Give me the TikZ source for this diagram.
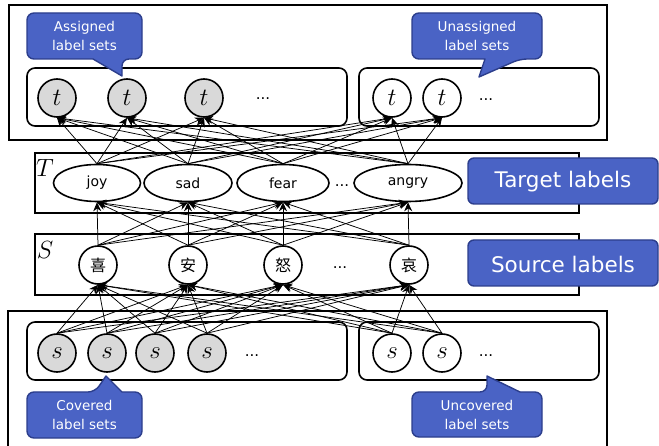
\documentclass[tikz,border=0pt]{standalone}
\usepackage{fontspec}
\setmainfont{DejaVu Sans}
\newfontfamily\cjk{Noto Sans CJK SC}
\usetikzlibrary{shapes.geometric,arrows.meta}
\definecolor{cfill}{RGB}{74,99,197}
\definecolor{cline}{RGB}{44,62,140}
\definecolor{ngray}{RGB}{217,217,217}
\tikzset{
  outerbox/.style={draw,line width=2.6pt},
  innerbox/.style={draw,line width=1.6pt,rounded corners=8pt},
  layerbox/.style={draw,line width=1.6pt},
  tnode/.style={circle,draw,line width=1.6pt,minimum size=38pt,inner sep=0pt,font=\fontsize{30}{30}\selectfont},
  snode/.style={circle,draw,line width=1.6pt,minimum size=38pt,inner sep=0pt,font=\fontsize{30}{30}\selectfont},
  cnode/.style={circle,draw,fill=white,line width=1.6pt,minimum size=38pt,inner sep=0pt,font=\cjk\fontsize{16}{16}\selectfont},
  enode/.style={ellipse,draw,fill=white,line width=1.6pt,minimum height=37pt,inner sep=0pt,font=\fontsize{14}{14}\selectfont},
  dots/.style={font=\fontsize{15}{15}\selectfont},
  callout/.style={draw=cline,fill=cfill,line width=1.4pt,line join=round},
  ctext/.style={text=white,align=center,font=\fontsize{13.5}{19}\selectfont},
  bigbox/.style={draw=cline,fill=cfill,line width=1.4pt,rounded corners=6pt},
  bigtext/.style={text=white,font=\fontsize{21.5}{21.5}\selectfont},
  edge/.style={line width=0.75pt,-{Stealth[length=9pt,width=8pt]}},
  layertext/.style={font=\fontsize{25}{25}\selectfont}
}
\begin{document}
\begin{tikzpicture}[x=1pt,y=-1pt]
\useasboundingbox (0,0) rectangle (659,446);
% outer boxes
\draw[outerbox] (9,5) rectangle (607,140);
\draw[outerbox] (8,311) rectangle (607,470);
% inner boxes
\draw[innerbox] (27,68) rectangle (347,126);
\draw[innerbox] (359,68) rectangle (599,126);
\draw[innerbox] (27,322) rectangle (347,380);
\draw[innerbox] (359,322) rectangle (599,380);
% layer boxes
\draw[layerbox] (35,153) rectangle (579,213);
\draw[layerbox] (35,234) rectangle (579,295);
\node[layertext] (Tlab) at (45,168) {$T$};
\node[layertext] (Slab) at (45,250) {$S$};
% big label boxes
\node[bigbox,minimum width=190pt,minimum height=46pt] (tgt) at (563,181) {};
\node[bigtext] (tgttext) at (563,182) {Target labels};
\node[bigbox,minimum width=190pt,minimum height=46pt] (src) at (563,263) {};
\node[bigtext] (srctext) at (563,264) {Source labels};
% t nodes
\node[tnode,fill=ngray] (t1) at (57,98) {$t$};
\node[tnode,fill=ngray] (t2) at (127,98) {$t$};
\node[tnode,fill=ngray] (t3) at (204,98) {$t$};
\node[tnode,fill=white] (t4) at (392,98) {$t$};
\node[tnode,fill=white] (t5) at (442,98) {$t$};
\node[dots] (d1) at (263,99) {...};
\node[dots] (d2) at (486,100) {...};
% target ellipses
\node[enode,minimum width=87pt] (joy) at (97,183) {joy};
\node[enode,minimum width=88pt] (sad) at (188,183) {sad};
\node[enode,minimum width=92pt] (fear) at (283,183) {fear};
\node[enode,minimum width=108pt] (angry) at (408,183) {angry};
\node[dots] (d3) at (342,186) {...};
% source circles
\node[cnode] (c1) at (98,265) {喜};
\node[cnode] (c2) at (188,265) {安};
\node[cnode] (c3) at (283,265) {怒};
\node[cnode] (c4) at (409,265) {哀};
\node[dots] (d4) at (340,268) {...};
% s nodes
\node[snode,fill=ngray] (s1) at (57,353) {$s$};
\node[snode,fill=ngray] (s2) at (107,353) {$s$};
\node[snode,fill=ngray] (s3) at (155,353) {$s$};
\node[snode,fill=ngray] (s4) at (207,353) {$s$};
\node[snode,fill=white] (s5) at (392,353) {$s$};
\node[snode,fill=white] (s6) at (442,353) {$s$};
\node[dots] (d5) at (252,356) {...};
\node[dots] (d6) at (486,356) {...};
% edges
\foreach \a in {joy,sad,fear,angry}
  \foreach \b in {t1,t2,t3,t4,t5}
    \draw[edge] (\a.north) -- (\b.south);
\foreach \a in {c1,c2,c3,c4}
  \foreach \b in {joy,sad,fear,angry}
    \draw[edge] (\a.north) -- (\b.south);
\foreach \a in {s1,s2,s3,s4,s5,s6}
  \foreach \b in {c1,c2,c3,c4}
    \draw[edge] (\a.north) -- (\b.south);
% callouts
\draw[callout] (27,36) [rounded corners=7pt] -- (27,13) -- (142,13) -- (142,59) -- (122,59) [sharp corners] -- (122,76) -- (93,59) [rounded corners=7pt] -- (27,59) -- cycle;
\node[ctext] (ca) at (84.5,36) {Assigned\\label sets};
\draw[callout] (412,36) [rounded corners=7pt] -- (412,13) -- (542,13) -- (542,59) -- (520,59) [sharp corners] -- (479,77) -- (485,59) [rounded corners=7pt] -- (412,59) -- cycle;
\node[ctext] (cu) at (477,36) {Unassigned\\label sets};
\draw[callout] (27,415) [rounded corners=7pt] -- (27,392) -- (95,392) [sharp corners] -- (106,376) -- (122,392) [rounded corners=7pt] -- (142,392) -- (142,438) -- (27,438) -- cycle;
\node[ctext] (cc) at (84.5,415) {Covered\\label sets};
\draw[callout] (412,415) [rounded corners=7pt] -- (412,392) -- (487,392) [sharp corners] -- (487,376) -- (520,392) [rounded corners=7pt] -- (542,392) -- (542,437) -- (412,437) -- cycle;
\node[ctext] (cv) at (477,415) {Uncovered\\label sets};
\end{tikzpicture}
\end{document}
